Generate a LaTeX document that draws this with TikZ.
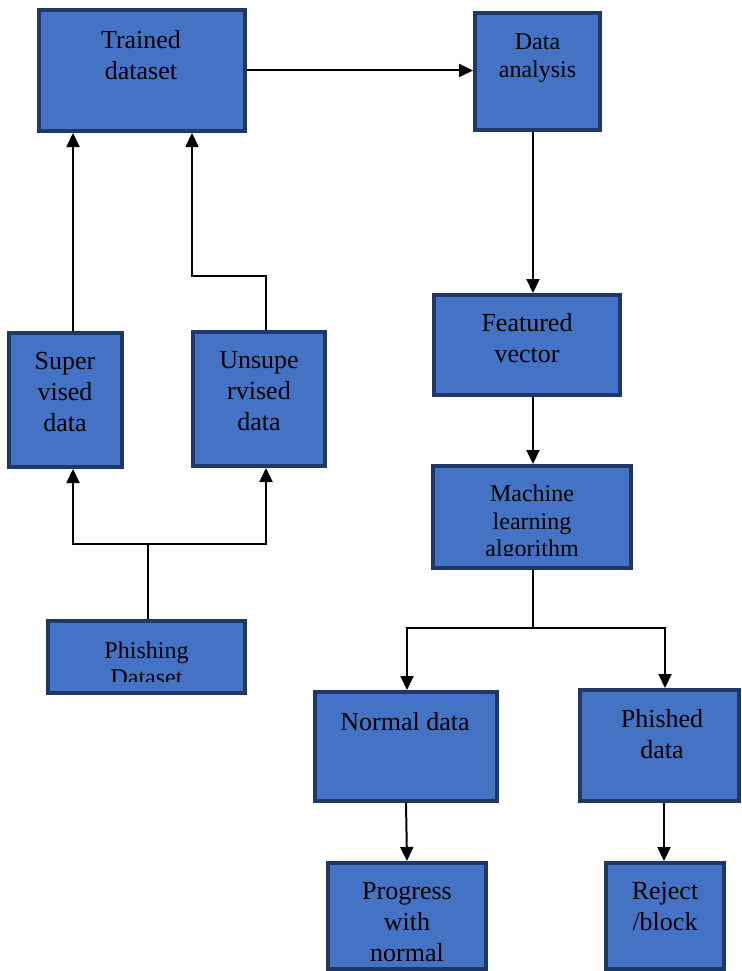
\documentclass[tikz,border=0pt]{standalone}
\usepackage{fontspec}
\setmainfont{Liberation Serif}
\usetikzlibrary{arrows.meta}
\definecolor{boxfill}{HTML}{4472C4}
\definecolor{boxline}{HTML}{203864}
\tikzset{
  box/.style={draw=boxline, fill=boxfill, line width=4pt, inner sep=0pt, rectangle},
  bigtxt/.style={font=\fontsize{26}{31}\selectfont, align=center, inner sep=0pt},
  smalltxt/.style={font=\fontsize{24}{27.5}\selectfont, align=center, inner sep=0pt},
  arr/.style={line width=2pt, -{Triangle[width=13pt,length=14pt]}},
  ln/.style={line width=2pt}
}
\begin{document}
\begin{tikzpicture}[x=1pt,y=-1pt]
\useasboundingbox (0,0) rectangle (741,971);
% boxes
\node[box, minimum width=206pt, minimum height=121pt] (trained) at (142,70.5) {};
\node[box, minimum width=125pt, minimum height=117pt] (analysis) at (537.5,71.5) {};
\node[box, minimum width=113pt, minimum height=134pt] (super) at (65.5,400) {};
\node[box, minimum width=132pt, minimum height=134pt] (unsup) at (259,399) {};
\node[box, minimum width=197pt, minimum height=72pt] (phishing) at (146.5,657) {};
\node[box, minimum width=186pt, minimum height=100pt] (featured) at (527,345) {};
\node[box, minimum width=198pt, minimum height=102pt] (machine) at (532,517) {};
\node[box, minimum width=182pt, minimum height=109pt] (normal) at (406,746.5) {};
\node[box, minimum width=159pt, minimum height=111pt] (phished) at (659.5,745.5) {};
\node[box, minimum width=158pt, minimum height=106pt] (progress) at (407,916) {};
\node[box, minimum width=118pt, minimum height=106pt] (reject) at (665,916) {};
% texts
\node[bigtxt] (t1) at (141,55) {Trained\\dataset};
\node[smalltxt] (t2) at (537.5,58) {Data\\analysis};
\node[bigtxt] (t3) at (65,392) {Super\\vised\\data};
\node[bigtxt] (t4) at (259,391.5) {Unsupe\\rvised\\data};
\node[bigtxt] (t5) at (527,338) {Featured\\vector};
\begin{scope}
  \clip (433,466) rectangle (631,555);
  \node[smalltxt] (t6) at (532,523.5) {Machine\\learning\\algorithm};
\end{scope}
\begin{scope}
  \clip (48,621) rectangle (245,681);
  \node[smalltxt] (t7) at (146.5,664) {Phishing\\Dataset};
\end{scope}
\node[bigtxt] (t8) at (405,722) {Normal data};
\node[bigtxt] (t9) at (662,734.5) {Phished\\data};
\node[bigtxt] (t10) at (407,922) {Progress\\with\\normal};
\node[bigtxt] (t11) at (665,907) {Reject\\/block};
% connectors
\draw[arr] (trained.east) -- (trained.east -| analysis.west);
\draw[arr] ([xshift=-4.5pt]analysis.south) -- ([xshift=-4.5pt]analysis.south |- featured.north);
\draw[arr] ([xshift=6pt]featured.south) -- ([xshift=6pt]featured.south |- machine.north);
\coordinate (mj) at (533,628);
\coordinate (nj) at (407,628);
\coordinate (pj2) at (665,628);
\draw[ln] (mj |- machine.south) -- (mj);
\draw[arr] (mj) -- (nj) -- (nj |- normal.north);
\draw[arr] (mj) -- (pj2) -- (pj2 |- phished.north);
\draw[arr] (normal.south) -- (progress.north);
\draw[arr] ([xshift=4.5pt]phished.south) -- ([xshift=4.5pt]phished.south |- reject.north);
\coordinate (pj) at (148,544);
\coordinate (sj) at (73,544);
\coordinate (uj) at (266,544);
\draw[ln] (pj |- phishing.north) -- (pj);
\draw[arr] (pj) -- (sj) -- (sj |- super.south);
\draw[arr] (pj) -- (uj) -- (uj |- unsup.south);
\draw[arr] (sj |- super.north) -- (sj |- trained.south);
\coordinate (ub) at (266,276);
\coordinate (ut) at (192,276);
\draw[arr] (ub |- unsup.north) -- (ub) -- (ut) -- (ut |- trained.south);
\end{tikzpicture}
\end{document}
